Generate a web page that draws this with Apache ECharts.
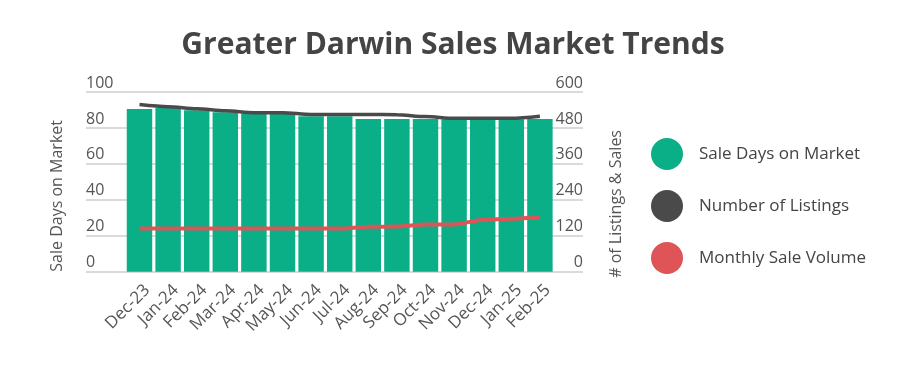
<!DOCTYPE html>
<html>
<head>
<meta charset="utf-8">
<script src="https://cdn.jsdelivr.net/npm/echarts@6/dist/echarts.min.js"></script>
<style>
html,body{margin:0;padding:0;background:#fff;}
#chart{width:915px;height:367px;}
</style>
</head>
<body>
<div id="chart"></div>
<script>
var categories = ['Dec-23','Jan-24','Feb-24','Mar-24','Apr-24','May-24','Jun-24','Jul-24','Aug-24','Sep-24','Oct-24','Nov-24','Dec-24','Jan-25','Feb-25'];
var saleDaysOnMarket = [90.5, 91.2, 89.8, 88.8, 88.0, 88.0, 86.5, 86.5, 85.0, 85.0, 85.0, 84.8, 84.8, 84.8, 85.0];
var numberOfListings = [558, 551, 544, 537, 531, 531, 525, 525, 525, 524, 518, 512, 512, 512, 519];
var monthlySaleVolume = [144, 144, 144, 144, 144, 144, 144, 144, 150, 151, 158, 158, 173, 177, 183];
var leftTicks = {min: 0, max: 100, interval: 20};
var rightTicks = {min: 0, max: 600, interval: 120};

var FONT = '"Open Sans", sans-serif';
var chart = echarts.init(document.getElementById('chart'), null, {renderer: 'canvas'});
chart.setOption({
  backgroundColor: '#ffffff',
  animation: false,
  textStyle: {fontFamily: FONT},
  title: {
    text: 'Greater Darwin Sales Market Trends',
    left: 448, top: 25, textAlign: 'center',
    textStyle: {fontFamily: FONT, fontSize: 30, fontWeight: 'bold', color: '#444444'}
  },
  legend: {
    orient: 'vertical', left: 646, top: 133,
    icon: 'circle', itemWidth: 32, itemHeight: 32, itemGap: 20,
    textStyle: {fontFamily: FONT, fontSize: 17, color: '#444444', padding: [0, 0, 0, 11]},
    data: ['Sale Days on Market', 'Number of Listings', 'Monthly Sale Volume']
  },
  graphic: [
    {type: 'text', left: 49, top: 120, rotation: Math.PI / 2,
      style: {text: 'Sale Days on Market', fontFamily: FONT, fontSize: 16, fill: '#555555'}},
    {type: 'text', left: 608, top: 130, rotation: Math.PI / 2,
      style: {text: '# of Listings & Sales', fontFamily: FONT, fontSize: 16, fill: '#555555'}}
  ],
  grid: [
    {left: 86, right: 332, top: 92, bottom: 95.3},
    {left: 125.2, right: 360.8, top: 92, bottom: 95.3}
  ],
  xAxis: [
    {type: 'category', gridIndex: 0, data: categories, show: false},
    {type: 'category', gridIndex: 1, data: categories,
      axisLine: {show: false}, axisTick: {show: false},
      axisLabel: {rotate: 45, margin: 8, align: 'right', verticalAlign: 'top', lineHeight: 22,
        fontFamily: FONT, fontSize: 17, color: '#555555', interval: 0}}
  ],
  yAxis: [
    {type: 'value', gridIndex: 0, position: 'left', min: leftTicks.min, max: leftTicks.max, interval: leftTicks.interval,
      axisLine: {show: false}, axisTick: {show: false},
      axisLabel: {inside: true, margin: 0, verticalAlign: 'bottom', padding: [0, 0, 1, 0], fontFamily: FONT, fontSize: 16, color: '#555555'},
      splitLine: {lineStyle: {color: '#dadada', width: 2}}},
    {type: 'value', gridIndex: 0, position: 'right', min: rightTicks.min, max: rightTicks.max, interval: rightTicks.interval,
      axisLine: {show: false}, axisTick: {show: false},
      axisLabel: {inside: true, margin: 0, verticalAlign: 'bottom', padding: [0, 0, 1, 0], fontFamily: FONT, fontSize: 16, color: '#555555'},
      splitLine: {show: false}},
    {type: 'value', gridIndex: 1, min: leftTicks.min, max: leftTicks.max, interval: leftTicks.interval, show: false, splitLine: {show: false}},
    {type: 'value', gridIndex: 1, min: rightTicks.min, max: rightTicks.max, interval: rightTicks.interval, show: false, splitLine: {show: false}}
  ],
  series: [
    {name: 'Sale Days on Market', type: 'bar', xAxisIndex: 1, yAxisIndex: 2, data: saleDaysOnMarket,
      barCategoryGap: '11%', itemStyle: {color: '#0baf87'}},
    {name: 'Number of Listings', type: 'line', xAxisIndex: 1, yAxisIndex: 3, data: numberOfListings,
      showSymbol: false, symbol: 'none', smooth: 0.3, smoothMonotone: 'x',
      itemStyle: {color: '#4a4a4a'}, lineStyle: {color: '#4a4a4a', width: 3.5}, z: 3},
    {name: 'Monthly Sale Volume', type: 'line', xAxisIndex: 1, yAxisIndex: 3, data: monthlySaleVolume,
      showSymbol: false, symbol: 'none', smooth: 0.3, smoothMonotone: 'x',
      itemStyle: {color: '#de5457'}, lineStyle: {color: '#de5457', width: 4}, z: 4}
  ]
});
</script>
</body>
</html>
